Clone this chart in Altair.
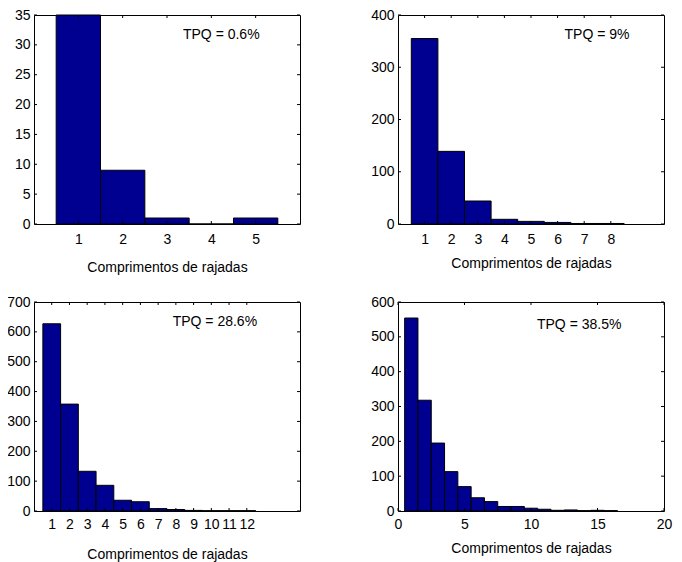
import altair as alt
import pandas as pd

# ---- data ----
p1_len = [1, 2, 3, 4, 5]
p1_cnt = [35, 9, 1, 0, 1]
p2_len = [1, 2, 3, 4, 5, 6, 7, 8]
p2_cnt = [355, 139, 44, 9, 5, 3, 1, 1]
p3_len = [1, 2, 3, 4, 5, 6, 7, 8, 9, 10, 11, 12]
p3_cnt = [627, 358, 133, 86, 36, 31, 8, 5, 2, 1, 1, 1]
p4_len = [1, 2, 3, 4, 5, 6, 7, 8, 9, 10, 11, 12, 13, 14, 15, 16]
p4_cnt = [554, 318, 195, 113, 70, 38, 27, 13, 13, 8, 5, 2, 3, 1, 2, 1]

tpq_labels = ["TPQ = 0.6%", "TPQ = 9%", "TPQ = 28.6%", "TPQ = 38.5%"]
tpq_x = [3.36, 6.26, 7.82, 10.45]
tpq_y = [31.0, 354, 619, 523]

x_domains = [[0, 6], [0, 10], [0, 15], [0, 20]]
x_ticks = [p1_len, p2_len, p3_len, [0, 5, 10, 15, 20]]
y_domains = [[0, 35], [0, 400], [0, 700], [0, 600]]
y_ticks = [list(range(0, 36, 5)), list(range(0, 401, 100)),
           list(range(0, 701, 100)), list(range(0, 601, 100))]

xlabel = "Comprimentos de rajadas"
BAR = "#000090"
FONT = "Liberation Sans"
FS = 14
W, H = 266, 209
TL = 3  # inward tick length


def panel(lens, cnts, i, lab_pad, title_y):
    df = pd.DataFrame({"len": lens, "cnt": cnts})
    df["x0"] = df["len"] - 0.5
    df["x1"] = df["len"] + 0.5
    xs = alt.Scale(domain=x_domains[i], nice=False, zero=False)
    ys = alt.Scale(domain=y_domains[i], nice=False)
    xax = alt.Axis(values=x_ticks[i], labelPadding=lab_pad, titleY=title_y,
                   titleBaseline="alphabetic", format="d", labelOverlap=False)
    yax = alt.Axis(values=y_ticks[i], format="d", labelOverlap=False)

    def X(f):
        return alt.X(f, scale=xs, title=xlabel, axis=xax)

    def Y(f):
        return alt.Y(f, scale=ys, title=None, axis=yax)

    bars = alt.Chart(df).mark_rect(
        color=BAR, stroke="black", strokeWidth=1, opacity=1
    ).encode(x=X("x0:Q"), x2="x1:Q", y=Y("cnt:Q"), y2=alt.datum(0))

    xt = pd.DataFrame({"x0": x_ticks[i]})
    yt = pd.DataFrame({"cnt": y_ticks[i]})
    xb = alt.Chart(xt).mark_rule(color="black", strokeWidth=1).encode(
        x=X("x0:Q"), y=alt.value(H), y2=alt.value(H - TL))
    xtp = alt.Chart(xt).mark_rule(color="black", strokeWidth=1).encode(
        x=X("x0:Q"), y=alt.value(0), y2=alt.value(TL))
    yl = alt.Chart(yt).mark_rule(color="black", strokeWidth=1).encode(
        y=Y("cnt:Q"), x=alt.value(0), x2=alt.value(TL))
    yr = alt.Chart(yt).mark_rule(color="black", strokeWidth=1).encode(
        y=Y("cnt:Q"), x=alt.value(W - TL), x2=alt.value(W))

    tdf = pd.DataFrame({"x0": [tpq_x[i]], "cnt": [tpq_y[i]], "s": [tpq_labels[i]]})
    txt = alt.Chart(tdf).mark_text(
        align="left", baseline="alphabetic", font=FONT, fontSize=FS, color="black"
    ).encode(x=X("x0:Q"), y=Y("cnt:Q"), text="s:N")

    return alt.layer(bars, xb, xtp, yl, yr, txt).properties(width=W, height=H)


p1 = panel(p1_len, p1_cnt, 0, 8, 47)
p2 = panel(p2_len, p2_cnt, 1, 8, 43)
p3 = panel(p3_len, p3_cnt, 2, 6, 47)
p4 = panel(p4_len, p4_cnt, 3, 6, 41)

chart = alt.concat(
    p1, p2, p3, p4, columns=2,
    spacing={"row": 78, "column": 98}, bounds="flush"
).resolve_scale(x="independent", y="independent").properties(
    padding={"left": -2, "top": -1, "right": 0, "bottom": 0},
    background="white"
).configure_view(
    stroke="black", strokeWidth=1
).configure_axis(
    domain=False, ticks=False, grid=False,
    labelFont=FONT, labelFontSize=FS, labelColor="black",
    labelOverlap=False, labelBound=False, labelFlush=False,
    titleFont=FONT, titleFontSize=FS, titleColor="black", titleFontWeight="normal",
    labelPadding=4
)

chart.save("out.html", embed_options={"renderer": "svg", "actions": False})
